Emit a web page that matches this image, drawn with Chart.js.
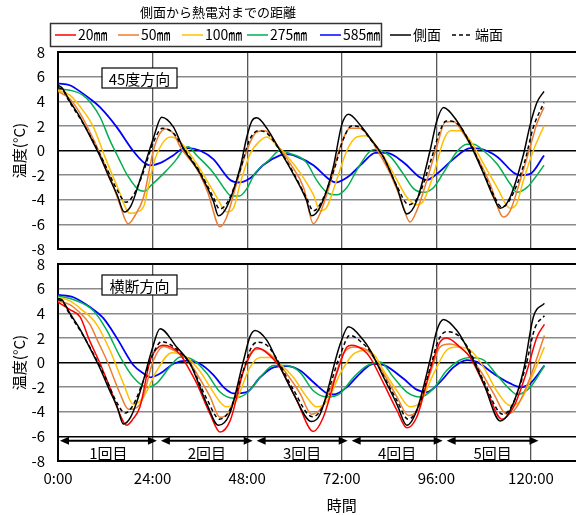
<!DOCTYPE html>
<html>
<head>
<meta charset="utf-8">
<script src="https://cdn.jsdelivr.net/npm/chart.js@4"></script>
<style>
  html, body { margin: 0; padding: 0; background: #fff; }
  #wrap { position: relative; width: 576px; height: 515px; overflow: hidden; }
  canvas { position: absolute; left: 0; }
  #c1 { top: 0; }
  #c2 { top: 254px; }
</style>
</head>
<body>
<div id="wrap">
  <canvas id="c1" width="680" height="262"></canvas>
  <canvas id="c2" width="680" height="261"></canvas>
</div>
<script>
// ---- data: [hours, temperature] ----
const top_side = [[0,5.3],[1,5.1],[3,4.0],[5.6,2.7],[9,0.6],[10.7,-0.5],[13,-2.2],[15,-3.6],[16.8,-5.0],[18.5,-4.5],[21,-2.2],[24.2,1.0],[26.3,2.7],[29.3,1.9],[31.6,0.3],[36.1,-1.9],[39.4,-4.1],[40.7,-5.3],[42.8,-4.6],[46.2,-1.4],[47.9,1.1],[49.2,2.4],[50.4,2.65],[53,1.8],[56.3,0],[59.7,-1.9],[63.1,-4.1],[64.3,-5.3],[66.5,-4.6],[69.8,-1.4],[72,2.1],[73.7,2.95],[76.6,2.1],[79.2,1.0],[82.5,-0.5],[86,-3.0],[88.5,-5.15],[91,-4.1],[94.4,0],[96.1,2.4],[97.8,3.5],[101.2,2.4],[104.6,0.5],[108,-1.9],[110.5,-3.8],[112.2,-4.7],[114.7,-3.8],[118.1,-0.3],[119.8,2.1],[121.5,3.9],[123.3,4.8]];
const top_end = [[0,5.1],[1,5.0],[3,3.9],[6,2.4],[9,0.7],[12,-1.2],[15,-3.2],[17.3,-4.2],[19,-3.7],[21.5,-1.9],[24,0.5],[26.5,1.8],[29.3,1.4],[31.6,0.3],[36.1,-1.8],[39.4,-3.8],[41,-4.75],[43,-4.2],[46.2,-1.6],[48.5,0.8],[50.8,1.6],[53,1.4],[56.3,0],[59.7,-1.8],[63.1,-3.9],[64.8,-4.9],[66.8,-4.2],[70,-1.6],[72.5,1.0],[74.5,2.0],[77,1.8],[79.5,0.8],[82.5,-0.5],[86,-2.9],[89,-4.4],[91.3,-3.8],[94.8,-0.6],[96.8,1.5],[98.5,2.4],[101.2,2.2],[104.6,0.6],[108,-1.8],[110.5,-3.6],[112.6,-4.6],[115,-3.8],[118.5,-0.8],[120.5,1.8],[123.3,3.9]];
const top_50 = [[0,4.8],[3,4.2],[6,2.8],[9,0.9],[10.7,-0.3],[13,-2.0],[15.5,-4.2],[17.8,-5.95],[19.5,-5.3],[21.7,-3.8],[24.2,0],[25.7,1.3],[27.2,1.75],[29.5,1.3],[31,0.3],[35.2,-1.5],[38,-3.4],[41.1,-6.2],[42.8,-5.4],[45.3,-2.7],[47.9,0],[50.4,1.5],[52.5,1.6],[55.5,0.5],[59,-1.1],[62.3,-3.0],[64.8,-5.95],[66.5,-5.1],[69,-2.7],[71.6,0.3],[74.1,1.8],[76.6,1.8],[79.2,0.95],[81.6,-0.3],[84.3,-1.9],[86.8,-3.8],[89.3,-5.8],[91,-4.9],[93.6,-2.4],[96.1,0.3],[98.2,2.3],[100.3,2.35],[102.9,1.35],[106.3,-0.5],[109.6,-2.7],[113,-5.4],[114.7,-4.9],[117.3,-2.4],[119.8,0.3],[121.5,2.2],[123.3,3.5]];
const top_100 = [[0,4.9],[3,4.5],[6,3.4],[9,1.9],[12,-0.6],[15,-2.9],[18.3,-5.1],[20,-5.0],[21.9,-4.4],[23,-2.8],[24.5,-0.8],[27,0.8],[28.7,1.1],[31,0.7],[35.2,-1.1],[37.7,-2.4],[40.3,-3.8],[42.8,-5.0],[44.5,-4.7],[46.2,-2.7],[48.7,-0.3],[51.3,0.8],[53,1.1],[55.5,0.4],[58,-0.4],[61.4,-1.8],[64.8,-3.6],[66.5,-4.9],[68.2,-4.6],[70.7,-2.4],[73.3,0],[75.8,1.1],[78.4,1.2],[80,0.7],[82.5,-0.4],[86,-2.4],[88.5,-3.8],[91,-4.4],[92.7,-4.1],[95.3,-1.9],[97.8,0.8],[99.5,1.6],[102,1.6],[104.6,0.8],[108,-1.1],[111.4,-3.0],[114.7,-4.7],[116.4,-4.3],[118.1,-2.4],[120.6,0],[123.3,2.0]];
const top_275 = [[0,5.0],[3,4.9],[6.3,4.5],[8.5,3.8],[10.7,2.7],[13.2,0.8],[15.5,-0.7],[17.4,-1.9],[20.8,-3.25],[22,-3.3],[23.4,-2.9],[26.7,-1.9],[30.1,-0.7],[31.6,0],[33,0.3],[35.2,-0.4],[39.4,-1.8],[42,-3.0],[44,-3.7],[46,-3.7],[47.9,-3.1],[49.9,-1.9],[53.8,-0.7],[56.3,0],[58.5,-0.2],[63,-0.95],[65.6,-2.4],[68.2,-3.4],[70.7,-3.6],[73.3,-3.0],[75.8,-1.6],[79,-0.1],[80.7,0.1],[84.3,-0.5],[87.6,-1.9],[90.2,-3.1],[92.7,-3.4],[95.3,-3.0],[97.8,-1.8],[101.2,-0.1],[103.7,0.5],[105.4,0.5],[107.9,0],[111.4,-1.1],[114.7,-2.7],[116.4,-3.4],[119,-3.0],[121.5,-2.0],[123.3,-1.2]];
const top_585 = [[0,5.45],[3,5.3],[6,4.7],[8.5,4.1],[10.7,3.5],[14.9,1.9],[19,0],[21.5,-0.9],[23.4,-1.2],[26,-1.0],[29.2,-0.4],[31.6,0.15],[33,0.2],[36,0],[39.4,-0.7],[43.7,-2.4],[46,-2.6],[49,-2.2],[52,-1.2],[56.3,-0.4],[58,-0.3],[60.6,-0.5],[64.8,-1.2],[69,-2.4],[70.5,-2.6],[73.3,-2.2],[77.5,-0.95],[80.5,-0.2],[83.4,-0.2],[87.6,-0.95],[91.9,-2.2],[93.5,-2.4],[96.1,-1.9],[100.3,-0.7],[104.6,0.2],[107,0.15],[111.4,-0.5],[115.6,-1.8],[117.3,-2.0],[119.8,-1.9],[123.3,-0.4]];

const bot_side = [[0,5.2],[1,5.1],[3,4.0],[5.6,2.7],[9,0.6],[10.7,-0.5],[13,-2.2],[15,-3.6],[16.6,-5.0],[18.5,-4.4],[21,-2.2],[23.8,1.0],[25.9,2.75],[30.1,1.25],[33.5,-0.1],[37.8,-3.4],[40.7,-5.1],[43.5,-4.2],[47.1,0.2],[48.7,2.1],[50,2.6],[53,1.8],[55.5,0.2],[59.7,-2.5],[64.3,-4.8],[66.5,-4.2],[71.6,1.5],[73.7,2.9],[77.5,1.8],[79.2,1.0],[82.6,-1.2],[86,-3.4],[88.5,-5.1],[91,-3.9],[94.4,0.2],[96.1,2.6],[97.8,3.5],[101.2,2.6],[103.7,1.25],[108,-1.7],[112.2,-4.75],[114.7,-3.9],[118.1,-0.65],[120.6,3.7],[123.4,4.8]];
const bot_end = [[0,5.1],[1,5.0],[3,3.9],[6,2.4],[9,0.7],[12,-1.2],[15,-3.3],[17,-4.1],[19,-3.5],[21.5,-1.6],[24,0.6],[26.3,1.7],[30,1.1],[33.5,-0.1],[37.8,-3.0],[41,-4.6],[43.5,-3.9],[47.3,-0.4],[49,1.2],[50.6,1.65],[53,1.4],[55.5,0.3],[59.7,-2.2],[64.5,-4.4],[66.8,-3.8],[71.8,0.8],[74,2.2],[77.5,1.5],[79.2,0.9],[82.6,-1.1],[86,-3.1],[88.8,-4.6],[91.3,-3.7],[94.8,0],[96.5,1.8],[98.5,2.5],[101.5,2.2],[104,1.2],[108,-1.5],[112.8,-4.2],[115,-3.6],[118.5,-0.5],[121,2.8],[123.4,3.8]];
const bot_20 = [[0,4.9],[3,4.3],[5.6,3.7],[8,1.8],[10.7,-0.1],[13,-1.9],[15.7,-4.2],[17.4,-5.1],[19,-4.6],[20.8,-3.6],[23.4,0.2],[25,1.1],[26.7,1.4],[30.9,0.7],[33,-0.4],[35.2,-1.7],[38.6,-4.2],[41.1,-5.65],[43.7,-4.7],[47.1,-0.65],[49.6,1.0],[50.4,1.2],[52.5,0.9],[56.3,-0.4],[60.6,-3.1],[64.8,-5.6],[67.3,-4.45],[70.7,-0.9],[73.3,1.25],[74.5,1.4],[77.5,1.0],[79.2,0.4],[82.6,-1.7],[86,-3.9],[88.5,-5.3],[91,-4.45],[94.4,-0.65],[96.9,1.65],[98.6,2.0],[102,1.25],[104.6,0.4],[108.8,-2.3],[112.6,-4.6],[115.6,-3.6],[119,-0.65],[121.5,2.05],[123.4,3.1]];
const bot_50 = [[0,5.0],[3,4.7],[5,4.2],[8.1,3.1],[10,1.8],[12.4,0.16],[15.7,-2.5],[17.9,-3.8],[20.8,-3.4],[24.2,0.16],[26.7,1.3],[30.9,0.7],[33,0.2],[35.2,-0.9],[38.6,-2.8],[41.1,-4.45],[43.7,-3.9],[46.2,-1.5],[48.7,0.7],[51.3,1.1],[54.7,0.4],[58,-0.9],[61.4,-2.5],[64.3,-4.2],[67,-3.6],[69.9,-1.5],[72.4,0.7],[75,1.25],[78.4,1.0],[82.6,-0.9],[86,-2.8],[88.9,-4.3],[91,-3.9],[94.4,-0.9],[96.9,1.25],[99.4,1.5],[102.9,1.0],[107.1,-0.65],[110.5,-2.5],[113.8,-4.2],[116.4,-3.6],[119.8,-1.2],[123.4,2.2]];
const bot_100 = [[0,5.3],[3,5.0],[6,4.3],[9.8,3.1],[13.2,0.97],[16.6,-1.7],[19.1,-3.4],[21.7,-2.8],[25,-0.7],[28.9,0.8],[32.7,0.4],[36,-0.7],[38.6,-2.0],[41.1,-3.2],[42.8,-3.6],[45,-3.2],[48.7,-0.4],[51.3,0.4],[53.8,0.4],[56.3,-0.1],[59.7,-1.2],[63.1,-2.8],[65.6,-3.6],[68.2,-3.2],[71.6,-0.9],[75,0.7],[78.4,1.0],[80.5,0.5],[82.6,-0.65],[86,-2.3],[89.3,-3.6],[91.9,-3.2],[95.3,-0.9],[98.6,1.0],[101.2,1.25],[104.6,1.0],[108,-0.4],[111.3,-2.3],[114.7,-3.5],[117.3,-3.1],[120.6,-0.9],[123.4,1.25]];
const bot_275 = [[0,5.4],[4,5.1],[9,4.2],[12.4,2.6],[15.7,0.5],[19.1,-1.2],[22.5,-2.0],[25,-1.7],[28.4,-0.35],[31,0.45],[34.4,0.2],[37.8,-0.9],[41.1,-2.4],[44.5,-2.9],[47.9,-2.5],[51.3,-1.2],[54.7,-0.25],[58,-0.25],[61.4,-0.8],[64.8,-2.3],[68.2,-2.8],[71.6,-2.5],[75,-1.2],[78.4,-0.25],[81.7,0.05],[85.1,-1.2],[88.5,-2.4],[91.9,-2.8],[95.3,-2.1],[98.6,-0.65],[102,0.2],[104.6,0.4],[108,0.2],[111.3,-1.0],[114.7,-2.2],[116.4,-2.6],[119.8,-2.0],[123.4,-0.25]];
const bot_585 = [[0,5.5],[3.9,5.3],[8.1,4.5],[11.5,3.6],[14.9,2.0],[19.1,-0.2],[21.7,-0.9],[23.4,-1.2],[25.9,-0.9],[29.3,-0.1],[32.7,0.15],[36,-0.1],[39.4,-1.0],[42,-2.0],[44.5,-2.5],[47.9,-2.4],[51.3,-1.2],[54.7,-0.4],[58,-0.3],[61.4,-0.65],[64.8,-1.6],[68.2,-2.5],[69.9,-2.6],[73.3,-2.0],[76.6,-0.9],[80,-0.1],[83,-0.25],[87.6,-1.3],[91,-2.2],[93.6,-2.4],[96.9,-1.6],[100.3,-0.4],[103.7,0.2],[106.3,0.05],[110.5,-0.9],[114.7,-1.7],[117.3,-2.0],[119.8,-1.7],[123.4,-0.25]];

const legendTitle = '側面から熱電対までの距離';
const legendLabels = ['20㎜', '50㎜', '100㎜', '275㎜', '585㎜', '側面', '端面'];
const panelNames = ['45度方向', '横断方向'];
const cycleLabels = ['1回目', '2回目', '3回目', '4回目', '5回目'];
const cycleStart = [0.5, 26.1, 50.4, 74.5, 98.6];
const cycleEnd = [25.1, 49.4, 73.5, 97.6, 121.9];

// ---- styles ----
const FONT = '"Noto Sans CJK JP", "Noto Sans", sans-serif';
const colors = ['#ff0000', '#ed7d31', '#ffc000', '#00b050', '#0000ff', '#000000', '#000000'];
const dashes = [[], [], [], [], [], [], [4, 3]];

Chart.defaults.font.family = FONT;
Chart.defaults.color = '#000';

const line = (idx, pts) => ({
  label: legendLabels[idx],
  data: pts.map(p => ({ x: p[0], y: p[1] })),
  borderColor: colors[idx],
  borderWidth: idx === 4 ? 1.8 : 1.5,
  borderDash: dashes[idx],
  pointRadius: 0,
  fill: false,
  cubicInterpolationMode: 'monotone'
});

const legendPlugin = {
  id: 'boxLegend',
  afterDraw(chart) {
    const ctx = chart.ctx;
    const xs = [55, 118, 182, 247, 320, 390, 452];
    ctx.save();
    ctx.fillStyle = '#000';
    ctx.textBaseline = 'middle';
    ctx.textAlign = 'center';
    ctx.font = '13px ' + FONT;
    ctx.fillText(legendTitle, 218, 12);
    ctx.strokeStyle = '#333';
    ctx.lineWidth = 1.5;
    ctx.strokeRect(50.5, 23.5, 331, 23);
    ctx.textAlign = 'left';
    ctx.font = '14px ' + FONT;
    legendLabels.forEach((lab, i) => {
      ctx.beginPath();
      ctx.setLineDash(dashes[i]);
      ctx.strokeStyle = colors[i];
      ctx.lineWidth = 1.5;
      ctx.moveTo(xs[i], 35);
      ctx.lineTo(xs[i] + 21, 35);
      ctx.stroke();
      ctx.setLineDash([]);
      ctx.fillText(lab, xs[i] + 23, 35);
    });
    ctx.restore();
  }
};

const panelLabelPlugin = {
  id: 'panelLabel',
  afterDraw(chart, args, opts) {
    const ctx = chart.ctx;
    const a = chart.chartArea;
    const x = a.left + 44, y = a.top + opts.offset, w = 75, h = 20;
    ctx.save();
    ctx.fillStyle = '#fff';
    ctx.fillRect(x, y, w, h);
    ctx.strokeStyle = '#000';
    ctx.lineWidth = 1.2;
    ctx.strokeRect(x, y, w, h);
    ctx.fillStyle = '#000';
    ctx.font = '15px ' + FONT;
    ctx.textAlign = 'center';
    ctx.textBaseline = 'middle';
    ctx.fillText(opts.text, x + w / 2, y + h / 2 + 1);
    ctx.restore();
  }
};

const cyclePlugin = {
  id: 'cycles',
  afterDatasetsDraw(chart) {
    const ctx = chart.ctx;
    const xs = chart.scales.x, ys = chart.scales.y;
    const yA = ys.getPixelForValue(-6.35);
    const yT = ys.getPixelForValue(-7.35);
    ctx.save();
    ctx.strokeStyle = '#000';
    ctx.fillStyle = '#000';
    ctx.lineWidth = 2;
    ctx.font = '15px ' + FONT;
    ctx.textAlign = 'center';
    ctx.textBaseline = 'middle';
    cycleLabels.forEach((lab, i) => {
      const x1 = xs.getPixelForValue(cycleStart[i]);
      const x2 = xs.getPixelForValue(cycleEnd[i]);
      ctx.beginPath();
      ctx.moveTo(x1 + 6, yA);
      ctx.lineTo(x2 - 6, yA);
      ctx.stroke();
      ctx.beginPath();
      ctx.moveTo(x1, yA); ctx.lineTo(x1 + 9, yA - 4); ctx.lineTo(x1 + 9, yA + 4); ctx.closePath();
      ctx.moveTo(x2, yA); ctx.lineTo(x2 - 9, yA - 4); ctx.lineTo(x2 - 9, yA + 4); ctx.closePath();
      ctx.fill();
      ctx.fillText(lab, (x1 + x2) / 2, yT);
    });
    ctx.restore();
  }
};

const makeScales = (bottom) => ({
  x: {
    type: 'linear', min: 0, max: 144,
    ticks: { stepSize: 24, display: bottom, padding: 8, font: { size: 15 }, maxRotation: 0,
             callback: v => v + ':00' },
    grid: { color: '#555', lineWidth: 1.3, drawTicks: false },
    border: { color: '#000', width: 2 },
    title: { display: bottom, text: '時間', font: { size: 15 }, padding: { top: 0, bottom: 1 } },
    afterFit: s => { s.height = bottom ? 54 : 13; }
  },
  y: {
    min: -8, max: 8,
    ticks: { stepSize: 2, padding: 13, font: { size: 15 } },
    grid: {
      drawTicks: false,
      color: c => (c.tick.value === 0 || c.tick.value === 8 || (bottom && c.tick.value === -6)) ? '#000' : '#8a8a8a',
      lineWidth: c => (c.tick.value === 8 ? 2 : 1.4)
    },
    border: { color: '#000', width: 2 },
    title: { display: true, text: '温度(°C)', font: { size: 15 }, padding: { top: 10, bottom: 0 } },
    // fixed axis width; drop the label overhang so the plot keeps its exact place
    afterFit: s => { s.width = 58; s.paddingTop = 0; s.paddingBottom = 0; }
  }
});

new Chart(document.getElementById('c1'), {
  type: 'line',
  data: {
    datasets: [line(5, top_side), line(6, top_end), line(1, top_50), line(2, top_100), line(3, top_275), line(4, top_585)]
  },
  options: {
    responsive: false, animation: false,
    layout: { padding: { top: 52, right: 54.4, left: 0, bottom: 0 } },
    plugins: { legend: { display: false }, tooltip: { enabled: false },
               panelLabel: { text: panelNames[0], offset: 16 } },
    scales: makeScales(false)
  },
  plugins: [legendPlugin, panelLabelPlugin]
});

new Chart(document.getElementById('c2'), {
  type: 'line',
  data: {
    datasets: [line(5, bot_side), line(6, bot_end), line(0, bot_20), line(1, bot_50), line(2, bot_100), line(3, bot_275), line(4, bot_585)]
  },
  options: {
    responsive: false, animation: false,
    layout: { padding: { top: 10, right: 54.4, left: 0, bottom: 0 } },
    plugins: { legend: { display: false }, tooltip: { enabled: false },
               panelLabel: { text: panelNames[1], offset: 11 } },
    scales: makeScales(true)
  },
  plugins: [panelLabelPlugin, cyclePlugin]
});
</script>
</body>
</html>
